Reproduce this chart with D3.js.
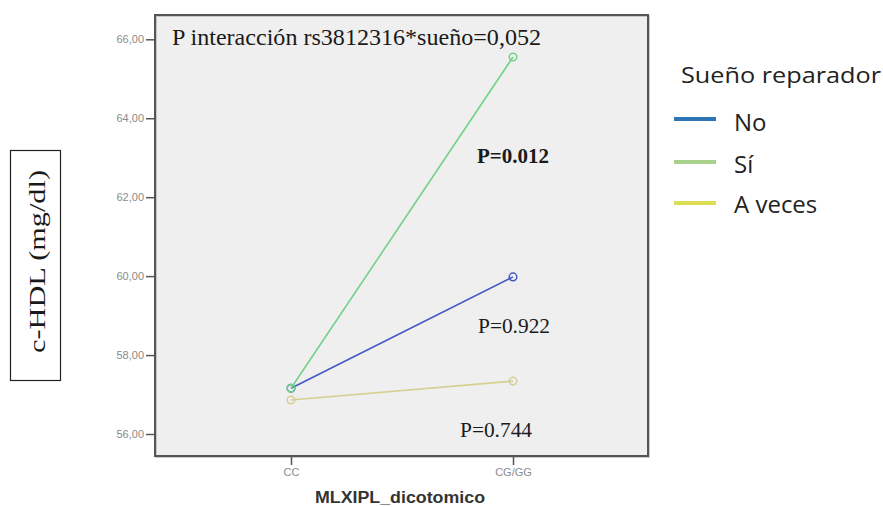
<!DOCTYPE html>
<html>
<head>
<meta charset="utf-8">
<script src="https://cdn.jsdelivr.net/npm/d3@7"></script>
<style>
  html, body { margin: 0; padding: 0; background: #fff; }
  svg { display: block; }
</style>
</head>
<body>
<svg id="chart" width="883" height="507"></svg>
<script>
// Genotype groups on the x axis
const categories = ["CC", "CG/GG"];
// Mean c-HDL (mg/dl) per sleep group
const seriesNames = ["No", "Sí", "A veces"];
const valuesNo = [57.16, 59.98];
const valuesSi = [57.16, 65.55];
const valuesAveces = [56.86, 57.34];
const yTicks = [56, 58, 60, 62, 64, 66];
// P-value annotations, anchored to a value on the y scale
const pLabels = ["P=0.012", "P=0.922", "P=0.744"];
const pLabelValues = [62.87, 58.57, 55.92];
const interactionText = "P interacción rs3812316*sueño=0,052";

const lineColors = ["#4656c2", "#72d18a", "#d6cf92"];
const legendColors = ["#2e75b6", "#a9d18e", "#dede55"];

const svg = d3.select("#chart");
const frame = { left: 155, right: 648, top: 15, bottom: 456 };

const y = d3.scaleLinear().domain([56, 66]).range([434, 39.3]);
const x = d3.scalePoint().domain(categories).range([291, 513]);

// Plot background and frame
svg.append("rect")
  .attr("x", frame.left).attr("y", frame.top)
  .attr("width", frame.right - frame.left).attr("height", frame.bottom - frame.top)
  .attr("fill", "#efefef");
svg.append("rect")
  .attr("x", frame.left + 1).attr("y", frame.top + 1)
  .attr("width", frame.right - frame.left).attr("height", frame.bottom - frame.top)
  .attr("fill", "none").attr("stroke", "#bbb").attr("stroke-width", 1.5);
svg.append("rect")
  .attr("x", frame.left).attr("y", frame.top)
  .attr("width", frame.right - frame.left).attr("height", frame.bottom - frame.top)
  .attr("fill", "none").attr("stroke", "#555").attr("stroke-width", 2);

// Y axis
const yAxis = d3.axisLeft(y).tickValues(yTicks).tickSize(8)
  .tickFormat(d => d3.format(".2f")(d).replace(".", ","));
const gy = svg.append("g").attr("transform", `translate(${frame.left - 1},0)`).call(yAxis);
gy.select(".domain").remove();
gy.selectAll(".tick line").attr("stroke", "#555").attr("stroke-width", 1.5);
gy.selectAll(".tick text").attr("fill", "#8a8a8a")
  .style("font-family", "Liberation Sans, Arial, sans-serif").style("font-size", "11px")
  .attr("x", -10);

// X axis
const xAxis = d3.axisBottom(x).tickSize(8);
const gx = svg.append("g").attr("transform", `translate(0,${frame.bottom + 1})`).call(xAxis);
gx.select(".domain").remove();
gx.selectAll(".tick line").attr("stroke", "#555").attr("stroke-width", 1.5);
gx.selectAll(".tick text").attr("fill", "#8a8a8a")
  .style("font-family", "Liberation Sans, Arial, sans-serif").style("font-size", "11px")
  .attr("y", 11);

// X axis title
svg.append("text")
  .attr("x", 315).attr("y", 503)
  .attr("textLength", 170).attr("lengthAdjust", "spacingAndGlyphs")
  .style("font-family", "Liberation Sans, Arial, sans-serif").style("font-size", "16px")
  .style("font-weight", "bold").attr("fill", "#333")
  .text("MLXIPL_dicotomico");

// Series lines and markers
const allSeries = [valuesNo, valuesSi, valuesAveces];
const drawOrder = [2, 0, 1];
const line = d3.line().x((d, i) => x(categories[i])).y(d => y(d));
drawOrder.forEach(s => {
  const vals = allSeries[s];
  svg.append("path").datum(vals)
    .attr("d", line).attr("fill", "none")
    .attr("stroke", lineColors[s]).attr("stroke-width", 1.6);
  svg.selectAll(null).data(vals).enter().append("circle")
    .attr("cx", (d, i) => x(categories[i])).attr("cy", d => y(d))
    .attr("r", 3.8).attr("fill", "none")
    .attr("stroke", lineColors[s]).attr("stroke-width", 1.5);
});

// Interaction and P annotations
const serif = "Liberation Serif, Times New Roman, serif";
svg.append("text")
  .attr("x", 172).attr("y", 45)
  .attr("textLength", 369).attr("lengthAdjust", "spacingAndGlyphs")
  .style("font-family", serif).style("font-size", "23px").attr("fill", "#1a1a1a")
  .text(interactionText);
const pX = [477, 478, 460];
pLabels.forEach((t, i) => {
  svg.append("text")
    .attr("x", pX[i]).attr("y", y(pLabelValues[i]))
    .attr("textLength", 72).attr("lengthAdjust", "spacingAndGlyphs")
    .style("font-family", serif).style("font-size", "21px")
    .style("font-weight", i === 0 ? "bold" : "normal").attr("fill", "#1a1a1a")
    .text(t);
});

// Y axis title in a box
svg.append("rect")
  .attr("x", 10.5).attr("y", 150.5).attr("width", 50).attr("height", 230)
  .attr("fill", "none").attr("stroke", "#222").attr("stroke-width", 1.2);
svg.append("text")
  .attr("transform", "translate(45,353) rotate(-90)")
  .attr("textLength", 183).attr("lengthAdjust", "spacingAndGlyphs")
  .style("font-family", serif).style("font-size", "24px").attr("fill", "#1a1a1a")
  .text("c-HDL (mg/dl)");

// Legend
const sans = "Open Sans, Liberation Sans, sans-serif";
svg.append("text")
  .attr("x", 681).attr("y", 83)
  .attr("textLength", 200).attr("lengthAdjust", "spacingAndGlyphs")
  .style("font-family", sans).style("font-size", "22px").attr("fill", "#222")
  .text("Sueño reparador");
const legendY = [119, 162, 203];
const legendBase = [131, 173, 213];
seriesNames.forEach((n, i) => {
  svg.append("line")
    .attr("x1", 674).attr("x2", 716).attr("y1", legendY[i]).attr("y2", legendY[i])
    .attr("stroke", legendColors[i]).attr("stroke-width", 4);
  svg.append("text")
    .attr("x", 734).attr("y", legendBase[i])
    .style("font-family", sans).style("font-size", "24px").attr("fill", "#222")
    .text(n);
});
</script>
</body>
</html>
